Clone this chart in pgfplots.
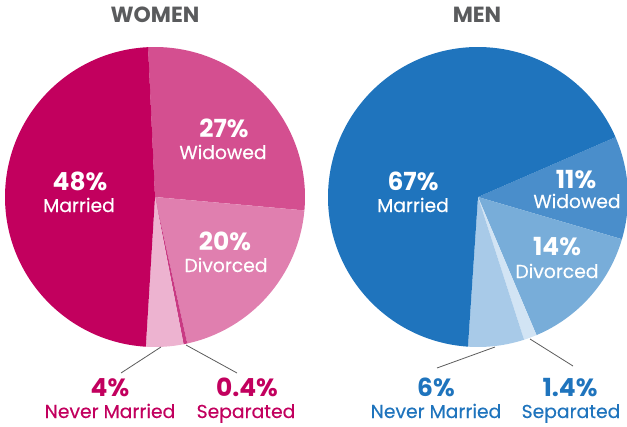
\documentclass[border=0pt]{standalone}
\usepackage{pgfplots}
\pgfplotsset{compat=1.18}
\usepackage{fontspec}
\setmainfont{Poppins}
\newfontfamily\lblfont{Poppins}[FakeBold=0.35]

\definecolor{wmar}{HTML}{C2005E}
\definecolor{wwid}{HTML}{D44F90}
\definecolor{wdiv}{HTML}{E07FAF}
\definecolor{wsep}{HTML}{C93A83}
\definecolor{wnev}{HTML}{EDB3D0}
\definecolor{mmar}{HTML}{1F74BD}
\definecolor{mwid}{HTML}{4A8ECB}
\definecolor{mdiv}{HTML}{78ADD9}
\definecolor{msep}{HTML}{D2E4F4}
\definecolor{mnev}{HTML}{A8CAE8}
\definecolor{titlegray}{HTML}{5A5B5D}
\definecolor{leader}{HTML}{5C5C5C}

% #1 cx, #2 cy, #3 start angle, #4 list pct/colour (clockwise)
\newcommand\drawpie[4]{%
  \gdef\piesum{0}%
  \foreach \p/\col in {#4}{\pgfmathsetmacro\tmpsum{\piesum+\p}\global\let\piesum\tmpsum}%
  \xdef\piea{#3}%
  \foreach \p/\col in {#4}{%
    \pgfmathsetmacro\nexta{\piea-\p/\piesum*360}%
    \edef\temp{\noexpand\fill[\col] (axis cs:#1,#2) -- ++(\piea:150bp)
      arc[start angle=\piea, end angle=\nexta, radius=150bp] -- cycle;}%
    \temp
    \global\let\piea\nexta}%
}

\newcommand\pct{\fontsize{25}{25}\selectfont\bfseries}
\newcommand\lbl{\fontsize{18.8}{19}\lblfont}

\begin{document}
\begin{tikzpicture}
\begin{axis}[x=1bp, y=1bp, xmin=0, xmax=627, ymin=0, ymax=427, hide axis, clip=false,
  at={(0,0)}, anchor=origin]
% women
\drawpie{155}{230}{92.65}{27/wwid, 20/wdiv, 0.4/wsep, 4/wnev, 48/wmar}
% men
\drawpie{478}{230}{23.5}{11/mwid, 14/mdiv, 1.4/msep, 6/mnev, 67/mmar}

\draw[leader, line width=0.8bp] (axis cs:161,80) -- (axis cs:121,54);
\draw[leader, line width=0.8bp] (axis cs:186,82) -- (axis cs:237,54);
\draw[leader, line width=0.8bp] (axis cs:495,80) -- (axis cs:437,59);
\draw[leader, line width=0.8bp] (axis cs:530,88) -- (axis cs:573,61);

\node[anchor=base, titlegray, font=\fontsize{22}{22}\selectfont\bfseries] at (axis cs:155,404) {WOMEN};
\node[anchor=base, titlegray, font=\fontsize{22}{22}\selectfont\bfseries] at (axis cs:477,404) {MEN};

\begin{scope}[every node/.style={anchor=base, inner sep=0pt, white}]
\node[font=\pct] at (axis cs:80,237) {48\%};
\node[font=\lbl] at (axis cs:79,215) {Married};
\node[font=\pct] at (axis cs:224,290) {27\%};
\node[font=\lbl] at (axis cs:223,268) {Widowed};
\node[font=\pct] at (axis cs:225,177) {20\%};
\node[font=\lbl] at (axis cs:226,155) {Divorced};
\node[font=\pct] at (axis cs:413,237) {67\%};
\node[font=\lbl] at (axis cs:413,215) {Married};
\node[font=\pct] at (axis cs:576,239) {11\%};
\node[font=\lbl] at (axis cs:577,219) {Widowed};
\node[font=\pct] at (axis cs:557,172) {14\%};
\node[font=\lbl] at (axis cs:557,149) {Divorced};
\end{scope}
\begin{scope}[every node/.style={anchor=base, inner sep=0pt, text=wmar}]
\node[font=\pct] at (axis cs:110,31) {4\%};
\node[font=\lbl] at (axis cs:110,9) {Never Married};
\node[font=\pct] at (axis cs:247,31) {0.4\%};
\node[font=\lbl] at (axis cs:246,9) {Separated};
\end{scope}
\begin{scope}[every node/.style={anchor=base, inner sep=0pt, text=mmar}]
\node[font=\pct] at (axis cs:436,31) {6\%};
\node[font=\lbl] at (axis cs:436,9) {Never Married};
\node[font=\pct] at (axis cs:570,31) {1.4\%};
\node[font=\lbl] at (axis cs:571,9) {Separated};
\end{scope}
\end{axis}
\pgfresetboundingbox
\useasboundingbox (0,0) rectangle (627bp,427bp);
\end{tikzpicture}
\end{document}
